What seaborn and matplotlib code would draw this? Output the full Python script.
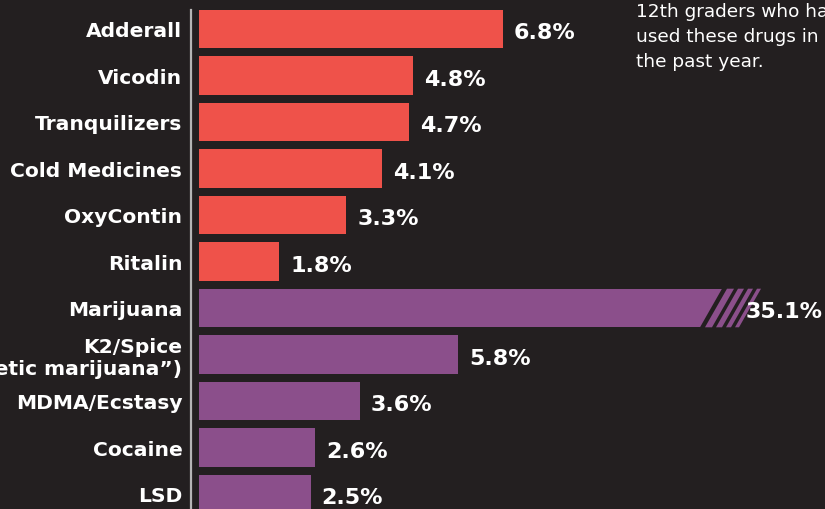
import pandas as pd
import seaborn as sns
import matplotlib.pyplot as plt
from matplotlib.patches import Polygon
from matplotlib.lines import Line2D

# Datos
drogas = ["Adderall", "Vicodin", "Tranquilizers", "Cold Medicines", "OxyContin", "Ritalin",
          "Marijuana", "K2/Spice\n(\u201csynthetic marijuana\u201d)", "MDMA/Ecstasy", "Cocaine", "LSD"]
porcentajes = [6.8, 4.8, 4.7, 4.1, 3.3, 1.8, 35.1, 5.8, 3.6, 2.6, 2.5]
grupo = ["rx"] * 6 + ["ilegal"] * 5
nota = "12th graders who have\nused these drugs in\nthe past year."

FONDO = "#231f20"
ROJO = "#ef524a"
MORADO = "#8b4f8b"
CORTE = 13.3  # la barra de marihuana se corta (fuera de escala)

df = pd.DataFrame({"droga": drogas, "pct": porcentajes, "grupo": grupo})
df["largo"] = df["pct"].clip(upper=CORTE)

plt.rcParams["font.family"] = ["DejaVu Sans"]

fig = plt.figure(figsize=(8.25, 5.1), dpi=100, facecolor=FONDO)
ax = fig.add_axes([199 / 825, 0, 626 / 825, 1])
ax.set_facecolor(FONDO)

sns.barplot(data=df, y="droga", x="largo", hue="grupo",
            palette={"rx": ROJO, "ilegal": MORADO}, dodge=False,
            width=0.83, legend=False, ax=ax, saturation=1)

esc = 44.65  # px por unidad
ax.set_xlim(0, 626 / esc)
ax.set_ylim(480 / 46.5, -30 / 46.5)

# corte con rayas en la barra de marihuana
i = drogas.index("Marijuana")
yb, yt = i + 0.415, i - 0.415
def u(px):
    return (px - 199) / esc
inc = 22
ax.add_patch(Polygon([(u(700), yb), (u(700 + inc), yt), (CORTE + 1, yt), (CORTE + 1, yb)],
                     closed=True, facecolor=FONDO, edgecolor="none", zorder=3))
for a, b in [(705, 712), (716, 722), (726, 731), (735, 739)]:
    ax.add_patch(Polygon([(u(a), yb), (u(a + inc), yt), (u(b + inc), yt), (u(b), yb)],
                         closed=True, facecolor=MORADO, edgecolor="none", zorder=4))

# etiquetas de valor
for k, (p, l) in enumerate(zip(df["pct"], df["largo"])):
    x = u(746) if p > CORTE else l + 11 / esc
    ax.text(x, k + 0.07, f"{p:.1f}%", color="white", fontsize=16, fontweight="bold",
            va="center", ha="left", zorder=5)

ax.set_xlabel("")
ax.set_ylabel("")
ax.set_xticks([])
ax.tick_params(axis="y", length=0, pad=12, labelsize=14.6, labelcolor="white")
for t in ax.get_yticklabels():
    t.set_fontweight("bold")
for s in ax.spines.values():
    s.set_visible(False)

fig.add_artist(Line2D([191 / 825] * 2, [0, 1 - 11 / 510], color="#b5b5b5", lw=1.6))

fig.text(636 / 825, 1 - 3 / 510, nota, color="white", fontsize=13.3, va="top", ha="left",
         linespacing=1.5)

fig.savefig("out.png", dpi=100, facecolor=FONDO)
